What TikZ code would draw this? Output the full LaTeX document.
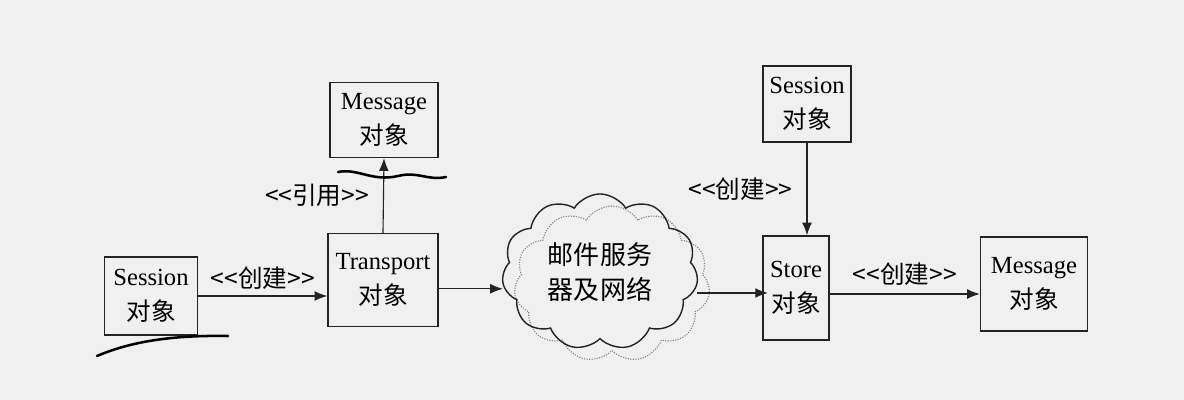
\documentclass[tikz,border=0pt]{standalone}
\usepackage{fontspec}
\setmainfont{Liberation Serif}
\newfontfamily\cjk{Noto Sans CJK SC}
\usepackage{tikz}
\usetikzlibrary{arrows.meta,positioning,shapes.symbols,calc}
\definecolor{paperGray}{RGB}{240,240,240}
\definecolor{inkGray}{RGB}{35,35,35}
\definecolor{shadeGray}{RGB}{130,130,130}

\begin{document}
\begin{tikzpicture}[
        x=0.025cm, y=-0.025cm,
        obj/.style={rectangle, draw=inkGray, line width=1pt, align=center, inner sep=2pt, font=\fontsize{17.5}{25}\selectfont},
        link/.style={-{Latex[length=9pt,width=7pt]}, draw=inkGray, line width=0.8pt},
        tag/.style={font=\cjk\fontsize{17.5}{25}\selectfont, inner sep=4pt},
        netcloud/.style={cloud, cloud puffs=11, cloud puff arc=115, aspect=1.3, minimum width=4.9cm, minimum height=3.9cm},
        scribble/.style={line width=1.8pt, line cap=round, black},
    ]
        % Page
        \fill[paperGray] (0,0) rectangle (1184,400);
        \useasboundingbox (0,0) rectangle (1184,400);

        % Objects
        \node[obj, minimum width=2.325cm, minimum height=1.95cm] (sessL) at (151,296) {Session\\{\cjk 对象}};
        \node[obj, minimum width=2.75cm, minimum height=2.325cm] (trans) at (383,280) {Transport\\{\cjk 对象}};
        \node[obj, minimum width=2.7cm, minimum height=1.875cm] (msgT) at (384,120) {Message\\{\cjk 对象}};
        \node[obj, minimum width=1.65cm, minimum height=2.6cm] (store) at (796,288) {Store\\{\cjk 对象}};
        \node[obj, minimum width=2.2cm, minimum height=1.9cm] (sessR) at (807,104) {Session\\{\cjk 对象}};
        \node[obj, minimum width=2.675cm, minimum height=2.35cm] (msgR) at (1034,284) {Message\\{\cjk 对象}};

        % Mail server cloud
        \node[netcloud, draw=shadeGray, densely dotted, line width=0.8pt] (netShade) at (612,284) {};
        \node[netcloud, draw=inkGray, line width=1pt, align=center, font=\cjk\fontsize{18.5}{25}\selectfont] (net) at (600,272) {邮件服务\hspace{0.6em}\\器及网络\hspace{0.6em}};

        % Connectors
        \draw[link] (sessL.east) -- (sessL.east -| trans.west)
            node[tag, midway, above] {<<创建>>};
        \draw[link] (trans.north) -- (msgT.south)
            node[tag, midway, left, xshift=-6pt] {<<引用>>};
        \draw[link] ([yshift=-0.22cm]trans.east) -- ([yshift=-0.22cm]trans.east -| net.west);
        \draw[link] ([yshift=-0.125cm]store.west -| net.east) -- ([yshift=-0.125cm, xshift=4pt]store.west);
        \draw[link] (sessR.south) -- (sessR.south |- store.north)
            node[tag, midway, left, xshift=-6pt] {<<创建>>};
        \draw[link] ([yshift=-0.15cm]store.east) -- ([yshift=-0.15cm]store.east -| msgR.west)
            node[tag, midway, above, yshift=2pt] {<<创建>>};

        % Hand marks
        \draw[scribble] (338,172) .. controls (358,168) and (372,182) .. (398,176)
            .. controls (418,171) and (428,181) .. (446,177);
        \draw[scribble] (97,356) .. controls (130,342) and (170,335) .. (228,336);
    \end{tikzpicture}
\end{document}
